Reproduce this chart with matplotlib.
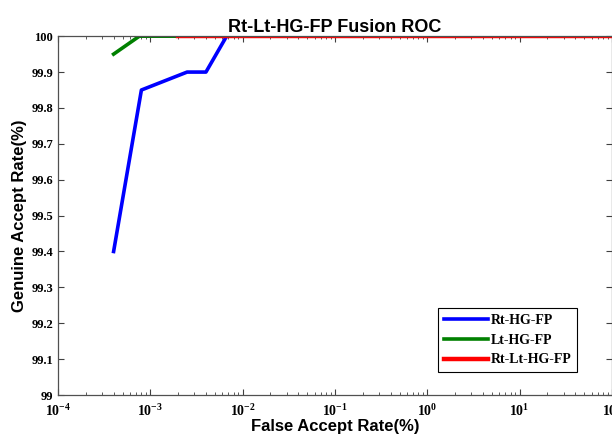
import matplotlib
matplotlib.use("Agg")
import matplotlib.pyplot as plt
from matplotlib.ticker import FixedLocator, LogLocator, NullFormatter

# ROC curves (FAR in %, GAR in %)
rt_far = [4e-4, 8e-4, 2.5e-3, 4e-3, 6.7e-3, 1e2]
rt_gar = [99.4, 99.85, 99.9, 99.9, 100.0, 100.0]
lt_far = [4e-4, 7.6e-4, 2e-3]
lt_gar = [99.95, 100.0, 100.0]
fused_far = [2e-3, 1e2]
fused_gar = [100.0, 100.0]

y_ticks = [99 + i / 10 for i in range(11)]
y_labels = ["99"] + ["99.%d" % i for i in range(1, 10)] + ["100"]
x_ticks = [1e-4, 1e-3, 1e-2, 1e-1, 1e0, 1e1, 1e2]
x_labels = ["$\\mathbf{10^{%d}}$" % e for e in range(-4, 3)]

# serif bold for the math tick labels
plt.rcParams["mathtext.fontset"] = "custom"
plt.rcParams["mathtext.bf"] = "Liberation Serif:bold"
plt.rcParams["mathtext.rm"] = "Liberation Serif"

fig = plt.figure(figsize=(6.12, 4.36), dpi=100)
ax = fig.add_axes([0.0948, 0.094, 0.9052, 0.823])

ax.plot(rt_far, rt_gar, color="#0000ff", lw=2.6, label="Rt-HG-FP")
ax.plot(lt_far, lt_gar, color="#008000", lw=2.6, label="Lt-HG-FP")
ax.plot(fused_far, fused_gar, color="#ff0000", lw=3.2, label="Rt-Lt-HG-FP")

ax.set_xscale("log")
ax.set_xlim(1e-4, 1e2)
ax.set_ylim(99, 100)
ax.xaxis.set_major_locator(FixedLocator(x_ticks))
ax.xaxis.set_minor_locator(LogLocator(base=10, subs=range(2, 10), numticks=20))
ax.xaxis.set_minor_formatter(NullFormatter())
ax.set_xticks(x_ticks)
ax.set_xticklabels(x_labels, fontsize=10)
ax.set_yticks(y_ticks)
ax.set_yticklabels(y_labels, family="Liberation Serif", fontsize=9, fontweight="bold")

ax.tick_params(which="both", direction="in", top=True, right=True, color="#404040")
ax.tick_params(which="major", length=4, width=0.8)
ax.tick_params(which="minor", length=2.5, width=0.6)
ax.tick_params(axis="x", pad=6)

for s in ax.spines.values():
    s.set_linewidth(0.9)
    s.set_color("#505050")

ax.set_title("Rt-Lt-HG-FP Fusion ROC", family="Liberation Sans", fontsize=13,
             fontweight="bold", pad=3)
ax.set_xlabel("False Accept Rate(%)", family="Liberation Sans", fontsize=12,
              fontweight="bold", labelpad=0)
ax.set_ylabel("Genuine Accept Rate(%)", family="Liberation Sans", fontsize=12,
              fontweight="bold", labelpad=3)

leg = ax.legend(loc="lower right", bbox_to_anchor=(0.937, 0.064), borderaxespad=0,
                prop={"family": "Liberation Serif", "weight": "bold", "size": 10},
                fancybox=False, edgecolor="black", framealpha=1,
                handlelength=3.2, handletextpad=0.2, labelspacing=0.5)
leg.get_frame().set_linewidth(0.8)

fig.savefig("out.png", dpi=100)
